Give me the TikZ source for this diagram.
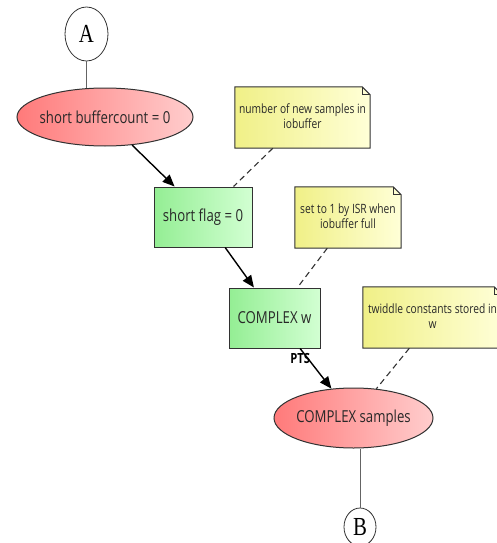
\documentclass[tikz,border=0pt]{standalone}
\usepackage{fontspec}
\setmainfont{Open Sans}[FakeStretch=0.8]
\newfontfamily\letterfont{Liberation Serif}[FakeStretch=0.8]
\usetikzlibrary{shapes.geometric,arrows.meta,backgrounds,calc}
\definecolor{redL}{RGB}{255,122,122}
\definecolor{redR}{RGB}{255,205,205}
\definecolor{greenL}{RGB}{148,238,148}
\definecolor{greenR}{RGB}{210,255,210}
\definecolor{yelL}{RGB}{240,240,135}
\definecolor{yelR}{RGB}{255,255,215}
\definecolor{textgray}{RGB}{40,40,40}
\definecolor{linegray}{RGB}{50,50,50}
\definecolor{plaingray}{RGB}{100,100,100}
\begin{document}
\begin{tikzpicture}[x=1pt,y=-1pt,
  redell/.style={ellipse, draw=linegray, line width=1pt, left color=redL, right color=redR,
    inner sep=0pt, text=textgray, font=\fontsize{16.5}{19}\selectfont},
  greenbox/.style={rectangle, draw=linegray, line width=1pt, left color=greenL, right color=greenR,
    inner sep=0pt, text=textgray, font=\fontsize{16.5}{19}\selectfont},
  notebox/.style={rectangle, inner sep=0pt, text=textgray,
    font=\fontsize{12.8}{15}\selectfont},
  notepaper/.style={draw=linegray, line width=1pt, left color=yelL, right color=yelR},
  letter/.style={ellipse, draw=linegray, line width=0.8pt, fill=white, inner sep=0pt,
    font=\letterfont\fontsize{26}{30}\selectfont},
  flow/.style={-{Triangle[length=12pt,width=10pt]}, line width=1.4pt, draw=black},
  anno/.style={dash pattern=on 6pt off 4pt, line width=1.1pt, draw=linegray},
  plainline/.style={line width=1pt, draw=plaingray},
  lbl/.style={font=\bfseries\fontsize{14}{16}\selectfont, text=black, inner sep=0pt}
]
\useasboundingbox (0,0) rectangle (496,543);
\clip (0,0) rectangle (496,543);

% nodes
\node[letter, minimum width=43pt, minimum height=54pt] (A) at (86.5,34) {A};
\node[redell, minimum width=176pt, minimum height=58pt] (e1) at (105,117) {\makebox[0pt]{short buffercount = 0}};
\node[greenbox, minimum width=98pt, minimum height=60pt] (b1) at (203,217) {short flag = 0};
\node[greenbox, minimum width=91pt, minimum height=60pt] (b2) at (274.5,318) {COMPLEX w};
\node[redell, minimum width=159pt, minimum height=60pt] (e2) at (353.5,418) {\makebox[0pt]{COMPLEX samples}};
\node[letter, minimum width=32pt, minimum height=38pt] (B) at (360,527) {B};

\node[notebox, minimum width=135pt, minimum height=61pt] (n1) at (302.5,117.5)
  {\raisebox{-3pt}{\begin{tabular}{@{}c@{}}number of new samples in\\iobuffer\end{tabular}}};
\node[notebox, minimum width=106pt, minimum height=61pt] (n2) at (348,217.5)
  {\raisebox{-3pt}{\begin{tabular}{@{}c@{}}set to 1 by ISR when\\iobuffer full\end{tabular}}};
\node[notebox, minimum width=139pt, minimum height=61pt] (n3) at (432.5,317.5)
  {\raisebox{-3pt}{\begin{tabular}{@{}c@{}}twiddle constants stored in\\w\end{tabular}}};

% note papers
\begin{scope}[on background layer]
\foreach \n in {n1,n2,n3}{
  \path[notepaper] (\n.south west) -- (\n.north west) -- ([xshift=-8pt]\n.north east)
    -- ([yshift=-8pt]\n.north east) -- (\n.south east) -- cycle;
  \draw[linegray, line width=0.8pt] ([xshift=-8pt]\n.north east)
    -- ([xshift=-8pt,yshift=-8pt]\n.north east) -- ([yshift=-8pt]\n.north east);
}
\end{scope}

% connectors
\draw[plainline] (A.south) -- (A.south |- e1.north);
\draw[flow] (e1.-46) -- (b1.133);
\draw[flow] (b1.-54) -- (b2.124);
\draw[flow] (b2.-50) -- node[lbl, pos=0, below=4pt] {PTS} (e2.127);
\draw[anno] (n1.-134) -- (b1.45);
\draw[anno] (n2.-124.5) -- (b2.53);
\draw[anno] (n3.-127.6) -- (e2.52);
\draw[plainline] (B.north) -- (B.north |- e2.south);
\end{tikzpicture}
\end{document}
